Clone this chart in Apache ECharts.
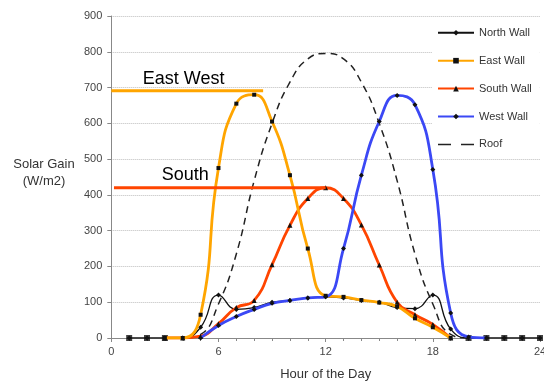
<!DOCTYPE html>
<html><head><meta charset="utf-8">
<script src="https://cdn.jsdelivr.net/npm/echarts@6/dist/echarts.min.js"></script>
<style>html,body{margin:0;padding:0;background:#fff}#c{width:544px;height:383px}</style>
</head><body><div id="c"></div>
<script>
// ---- data ----
const hours = [1,2,3,4,5,6,7,8,9,10,11,12,13,14,15,16,17,18,19,20,21,22,23,24];
const northWall = [0,0,0,0,30,120,80,85,100,105,112,115,112,105,100,85,82,120,25,0,0,0,0,0];
const eastWall  = [null,null,0,0,65,475,655,680,605,455,250,118,115,106,99,88,55,30,0,null,null,null,null,null];
const southWall = [null,null,0,0,5,40,85,105,205,315,390,420,390,316,204,100,65,38,0,null,null,null,null,null];
const westWall  = [null,null,null,null,0,35,60,80,97,105,112,115,250,455,605,678,652,471,70,3,0,null,null,null];
const roof      = [null,null,0,0,10,95,235,440,600,715,780,795,780,715,600,440,235,95,10,0,0,null,null,null];
const zeroMarkHours = [1,2,3,20,21,22,23,24];
const eastWestLevel = 691, eastWestSpan = [0, 8.5];
const southLevel = 420, southSpan = [0.15, 12];
const xTicks = [0,6,12,18,24];
const yTicks = [0,100,200,300,400,500,600,700,800,900];

const FONT = '"Liberation Sans", Arial, sans-serif';
const pairs = vals => hours.map((h,i) => [h, vals[i]]);

const chart = echarts.init(document.getElementById('c'), null, {renderer:'canvas'});
chart.setOption({
  animation:false,
  backgroundColor:'#fff',
  textStyle:{fontFamily:FONT},
  grid:{left:111.3, right:4, top:16, bottom:45, containLabel:false, outerBoundsMode:'none'},
  xAxis:{
    type:'value', min:xTicks[0], max:xTicks[xTicks.length-1], interval:6,
    name:'Hour of the Day', nameLocation:'middle', nameGap:30,
    nameTextStyle:{fontSize:13, color:'#333', fontFamily:FONT},
    axisLine:{show:true, onZero:false, lineStyle:{color:'#888', width:1}},
    axisTick:{show:true, length:4, lineStyle:{color:'#888'}},
    minorTick:{show:true, splitNumber:6, length:3, lineStyle:{color:'#888'}},
    axisLabel:{fontSize:11, color:'#444', margin:8, fontFamily:FONT},
    splitLine:{show:false}
  },
  yAxis:{
    type:'value', min:yTicks[0], max:yTicks[yTicks.length-1], interval:100,
    axisLine:{show:true, lineStyle:{color:'#888', width:1}},
    axisTick:{show:true, length:4, lineStyle:{color:'#888'}},
    axisLabel:{fontSize:11, color:'#444', margin:9, fontFamily:FONT},
    splitLine:{show:true, lineStyle:{color:'#bdbdbd', type:[1,1], width:1}}
  },
  legend:{
    orient:'vertical', left:432, top:22.3, itemWidth:36, itemHeight:7, itemGap:16.9,
    padding:[5,8,5,5], backgroundColor:'#fff',
    textStyle:{fontSize:11, color:'#333', fontFamily:FONT},
    data:['North Wall','East Wall','South Wall','West Wall',
          {name:'Roof', itemStyle:{opacity:0}, lineStyle:{type:[13,10], width:1.5, color:'#222'}}]
  },
  graphic:[
    {type:'text', style:{text:'East West', x:142.7, y:79, font:'18px '+FONT, fill:'#000', verticalAlign:'middle'}},
    {type:'text', style:{text:'South', x:161.7, y:175, font:'18px '+FONT, fill:'#000', verticalAlign:'middle'}},
    {type:'text', style:{text:'Solar Gain', x:44, y:164, font:'13px '+FONT, fill:'#333', align:'center', verticalAlign:'middle'}},
    {type:'text', style:{text:'(W/m2)', x:44, y:181, font:'13px '+FONT, fill:'#333', align:'center', verticalAlign:'middle'}}
  ],
  series:[
    {name:'Roof', type:'line', smooth:true, symbol:'none', data:pairs(roof), z:2,
     lineStyle:{color:'#222', width:1.5, type:[7,5]}, itemStyle:{color:'#222'}},
    {name:'North Wall', type:'line', smooth:true, symbol:'diamond', symbolSize:5, data:pairs(northWall), z:3,
     lineStyle:{color:'#111', width:1.3}, itemStyle:{color:'#111'}},
    {name:'zero', type:'scatter', symbol:'rect', symbolSize:6, data:zeroMarkHours.map(h=>[h,0]), z:3,
     itemStyle:{color:'#111'}},
    {name:'South Wall', type:'line', smooth:true, symbol:'triangle', symbolSize:5, data:pairs(southWall), z:4,
     lineStyle:{color:'#FF4500', width:2.8}, itemStyle:{color:'#111'}},
    {name:'East Wall', type:'line', smooth:true, symbol:'rect', symbolSize:4, data:pairs(eastWall), z:5,
     lineStyle:{color:'#FFA500', width:2.8}, itemStyle:{color:'#111'}},
    {name:'West Wall', type:'line', smooth:true, symbol:'diamond', symbolSize:5, data:pairs(westWall), z:5,
     lineStyle:{color:'#3B48F5', width:2.8}, itemStyle:{color:'#111'}},
    {name:'eastWestRef', type:'line', symbol:'none', z:6, data:eastWestSpan.map(x=>[x,eastWestLevel]),
     lineStyle:{color:'#FFA500', width:3}},
    {name:'southRef', type:'line', symbol:'none', z:6, data:southSpan.map(x=>[x,southLevel]),
     lineStyle:{color:'#FF4500', width:3}}
  ]
});
</script></body></html>
